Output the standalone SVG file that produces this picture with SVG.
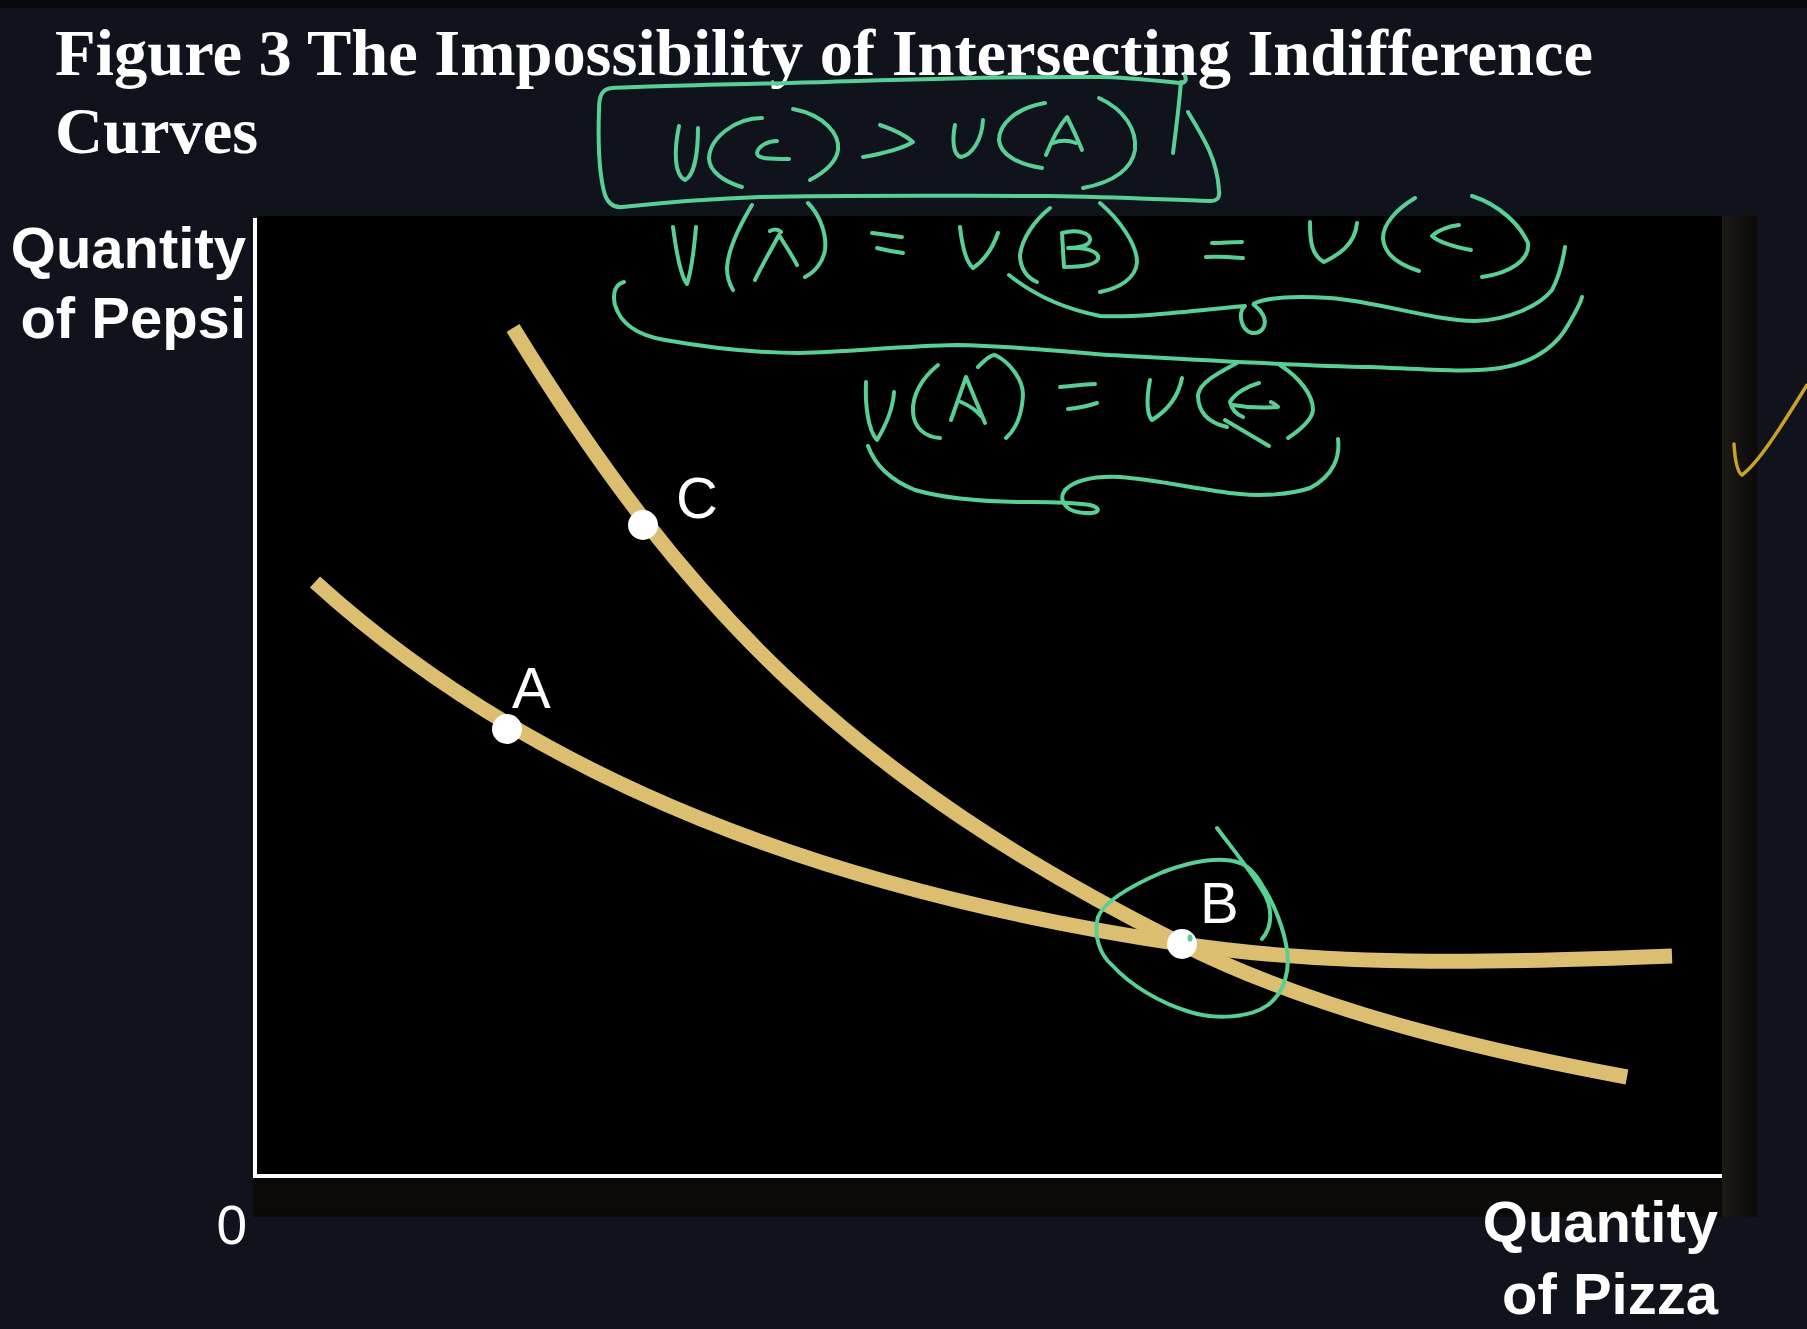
<svg xmlns="http://www.w3.org/2000/svg" width="1807" height="1329" viewBox="0 0 1807 1329">
<defs>
<style>
.title{font-family:"Liberation Serif","Times New Roman",serif;font-weight:bold;font-size:66.5px;fill:#ffffff}
.axlab{font-family:"Liberation Sans",Arial,sans-serif;font-weight:bold;font-size:58px;fill:#ffffff;text-anchor:end}
.zero{font-family:"Liberation Sans",Arial,sans-serif;font-size:55px;fill:#ffffff;text-anchor:end}
.pt{font-family:"Liberation Sans",Arial,sans-serif;font-size:58px;fill:#ffffff}
.curve{fill:none;stroke:#dcbe71;stroke-width:15;stroke-linecap:butt}
.dot{fill:#ffffff}
.ink{fill:none;stroke:#58cf95;stroke-width:4;stroke-linecap:round;stroke-linejoin:round}
.axis{stroke:#ffffff;stroke-width:4;fill:none}
</style>
<linearGradient id="shR" x1="0" y1="0" x2="1" y2="0">
<stop offset="0" stop-color="#1d1b15"/><stop offset="1" stop-color="#0b0a08"/>
</linearGradient>
<linearGradient id="shB" x1="0" y1="0" x2="0" y2="1">
<stop offset="0" stop-color="#1d1b15"/><stop offset="1" stop-color="#0b0a08"/>
</linearGradient>
</defs>
<rect x="0" y="0" width="1807" height="1329" fill="#10121c"/>
<rect x="0" y="0" width="1807" height="8" fill="#08090d"/>

<g id="title">
<text class="title" x="55" y="75" textLength="1538" lengthAdjust="spacing">Figure 3 The Impossibility of Intersecting Indifference</text>
<text class="title" x="55" y="153">Curves</text>
</g>

<g id="plot">
<rect x="253" y="216" width="1504" height="1001" fill="url(#shB)"/>
<rect x="1722" y="216" width="35" height="1001" fill="url(#shR)"/>
<rect x="257" y="216" width="1465" height="960" fill="#000000"/>
</g>

<g id="axes">
<line class="axis" x1="255" y1="218" x2="255" y2="1178"/>
<line class="axis" x1="253" y1="1176" x2="1722" y2="1176"/>
<text class="axlab" x="246" y="268">Quantity</text>
<text class="axlab" x="246" y="338">of Pepsi</text>
<text class="zero" x="247" y="1244">0</text>
<text class="axlab" x="1718" y="1242">Quantity</text>
<text class="axlab" x="1718" y="1314">of Pizza</text>
</g>

<g id="connectors">
<path id="curve-cb" class="curve" d="M513,328 C685,608 851,779 1182,944 C1322,1014 1497,1053 1627,1077"/>
<path id="curve-ab" class="curve" d="M315,582 C535,782 832,892 1182,944 C1342,968 1520,962 1672,956"/>
</g>

<g id="node-A">
<circle class="dot" cx="507" cy="729" r="15"/>
<text class="pt" x="512" y="708">A</text>
</g>
<g id="node-C">
<circle class="dot" cx="643" cy="525" r="15"/>
<text class="pt" x="676" y="518">C</text>
</g>
<g id="node-B">
<circle class="dot" cx="1182" cy="944" r="15"/>
<text class="pt" x="1200" y="923">B</text>
</g>

<g id="annotations">
<!-- box -->
<path class="ink" d="M1185,76 C1187,80 1185,83 1180,83 C1150,80 1120,77 1100,77 C1000,76 900,80 790,83 C700,85 640,86 612,88 C602,89 599,95 599,110 C598,140 599,175 605,195 C608,203 613,208 622,207 C660,203 700,199 760,197 C850,195 950,196 1050,196 C1120,197 1170,200 1210,201 C1218,201 1220,197 1219,190 C1217,160 1205,140 1188,112"/>
<path class="ink" d="M1181,82 C1179,105 1176,130 1173,153"/>
<!-- U(c) > U(A) -->
<path class="ink" d="M679,126 C674,150 674,175 685,180 C695,175 698,150 698,128"/>
<path class="ink" d="M762,118 C735,118 710,138 709,158 C709,172 725,182 742,187"/>
<path class="ink" d="M777,141 C768,141 758,146 757,153 C757,159 770,159 789,159"/>
<path class="ink" d="M793,109 C825,115 840,135 838,150 C836,163 825,172 810,180"/>
<path class="ink" d="M880,125 C895,130 905,135 913,142 C900,150 880,154 863,157"/>
<path class="ink" d="M955,125 C952,140 953,155 961,157 C972,155 982,140 983,120"/>
<path class="ink" d="M1045,103 C1015,108 999,125 999,140 C1000,155 1020,165 1042,168"/>
<path class="ink" d="M1046,155 C1052,140 1060,125 1067,117 C1072,127 1078,140 1082,150 M1053,143 C1060,140 1068,140 1076,143"/>
<path class="ink" d="M1099,98 C1125,110 1137,130 1135,150 C1132,168 1115,182 1083,188"/>
<!-- U(A) = U(B) = U(c) -->
<path class="ink" d="M673,227 C676,250 680,275 687,284 C690,275 694,250 696,227"/>
<path class="ink" d="M752,205 C740,225 728,250 727,268 C727,278 730,285 733,290"/>
<path class="ink" d="M755,280 C762,265 772,248 779,235 C785,245 792,255 797,265 M770,231 C774,229 778,229 781,232"/>
<path class="ink" d="M808,203 C820,215 827,235 825,250 C823,262 815,272 805,277"/>
<path class="ink" d="M872,233 C882,234 892,236 902,237 M877,248 C885,250 895,252 903,253"/>
<path class="ink" d="M960,227 C962,245 966,262 973,268 C985,260 993,247 998,233"/>
<path class="ink" d="M1050,208 C1035,220 1022,238 1020,255 C1020,268 1027,278 1037,282"/>
<path class="ink" d="M1062,233 L1064,267 M1062,233 C1077,229 1091,233 1090,240 C1089,246 1078,248 1068,248 C1087,247 1100,252 1098,259 C1095,266 1078,267 1064,267"/>
<path class="ink" d="M1100,203 C1120,220 1137,245 1137,262 C1136,278 1120,288 1100,292"/>
<path class="ink" d="M1212,243 C1222,243 1232,242 1242,242 M1206,257 C1218,256 1230,257 1243,258"/>
<path class="ink" d="M1310,222 C1310,240 1311,255 1324,262 C1338,255 1355,245 1357,223"/>
<path class="ink" d="M1415,198 C1395,210 1383,225 1383,238 C1384,255 1400,265 1419,271"/>
<path class="ink" d="M1459,225 C1450,226 1438,230 1432,236 C1440,243 1455,247 1471,250"/>
<path class="ink" d="M1472,196 C1500,205 1520,225 1528,243 C1530,260 1510,273 1482,277"/>
<!-- brace under U(B) = U(c) -->
<path class="ink" d="M1009,275 C1030,292 1060,308 1100,316 C1140,318 1200,310 1245,306 C1238,312 1240,330 1252,333 C1262,334 1268,325 1263,315 C1258,305 1250,305 1255,303 C1270,297 1300,296 1330,298 C1380,302 1430,320 1475,321 C1510,320 1540,305 1552,290 C1560,275 1563,260 1565,247"/>
<!-- big brace -->
<path class="ink" d="M624,282 C616,284 612,292 615,305 C620,322 635,335 665,340 C710,348 760,353 800,353 C850,352 900,346 957,345 C1010,346 1060,351 1110,355 C1200,360 1300,366 1370,367 C1420,369 1470,373 1500,368 C1540,362 1560,340 1568,325 C1575,313 1580,305 1582,297"/>
<!-- U(A) = U(c) -->
<path class="ink" d="M866,382 C865,405 868,430 877,440 C886,425 893,410 894,392"/>
<path class="ink" d="M938,365 C922,378 912,395 913,412 C914,428 925,437 940,438"/>
<path class="ink" d="M951,420 L966,377 L985,423 M961,402 C968,405 976,410 981,416"/>
<path class="ink" d="M978,367 C985,360 990,355 995,355 C1010,362 1023,380 1023,395 C1022,415 1015,430 1006,438"/>
<path class="ink" d="M1060,387 C1072,386 1085,384 1095,384 M1068,409 C1078,408 1088,406 1097,403"/>
<path class="ink" d="M1150,380 C1146,400 1147,415 1152,420 C1165,412 1178,398 1182,378"/>
<path class="ink" d="M1237,363 C1220,372 1200,382 1198,395 C1198,410 1205,422 1227,427"/>
<path class="ink" d="M1259,383 C1248,386 1235,393 1230,402 C1232,410 1238,415 1243,417 M1233,405 C1250,408 1265,408 1278,407 C1275,404 1273,403 1271,402"/>
<path class="ink" d="M1225,420 L1269,446"/>
<path class="ink" d="M1280,365 C1300,378 1313,395 1313,410 C1312,420 1300,430 1288,438"/>
<path class="ink" d="M1338,439 C1340,455 1335,475 1310,488 C1290,495 1260,496 1240,494 C1200,490 1160,480 1120,477 C1095,476 1075,480 1065,490 C1058,500 1065,512 1085,513 C1100,514 1102,508 1090,505 C1070,502 1050,502 1030,502 C990,502 950,500 915,490 C890,480 875,465 868,446"/>
<!-- circle around B -->
<path class="ink" d="M1240,863 C1220,856 1190,862 1163,872 C1135,884 1105,900 1098,917 C1093,935 1100,955 1112,965 C1130,985 1160,1003 1190,1012 C1215,1020 1250,1018 1268,1005 C1285,992 1290,970 1287,950 C1284,930 1275,905 1262,885 C1255,872 1248,866 1240,863"/>
<path class="ink" d="M1217,828 C1232,848 1250,870 1262,890 C1272,905 1274,925 1262,939"/>
<ellipse cx="1190" cy="938" rx="2.5" ry="3.5" fill="#58cf95"/>
<!-- check mark -->
<path d="M1734,444 C1735,460 1737,472 1742,475 C1760,462 1785,420 1807,385" fill="none" stroke="#c9a227" stroke-width="3.5" stroke-linecap="round"/>
</g>
</svg>
